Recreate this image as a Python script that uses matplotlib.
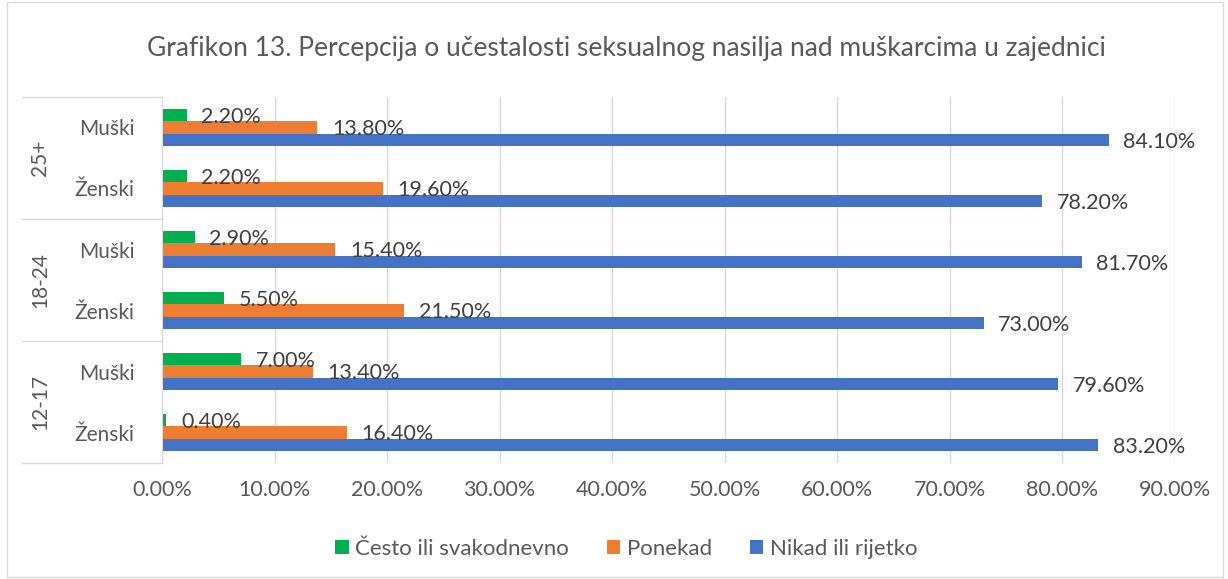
import matplotlib.pyplot as plt
from matplotlib.patches import Rectangle

plt.rcParams['font.family'] = ['Lato', 'DejaVu Sans']

# data (rows from top to bottom)
rows = ['Muški', 'Ženski', 'Muški', 'Ženski', 'Muški', 'Ženski']
groups = ['25+', '18-24', '12-17']
cesto = [2.2, 2.2, 2.9, 5.5, 7.0, 0.4]
ponekad = [13.8, 19.6, 15.4, 21.5, 13.4, 16.4]
nikad = [84.1, 78.2, 81.7, 73.0, 79.6, 83.2]
series_names = ['Često ili svakodnevno', 'Ponekad', 'Nikad ili rijetko']
colors = ['#00B050', '#ED7D31', '#4472C4']

fig = plt.figure(figsize=(12.28, 5.79), dpi=100)
ax = fig.add_axes([0.1319, 0.2003, 0.8249, 0.6322])

y = list(range(len(rows)))
h = 0.2
for vals, off, col, name in zip([cesto, ponekad, nikad], [-h, 0, h], colors, series_names):
    ypos = [v + off for v in y]
    ax.barh(ypos, vals, height=h, color=col, label=name)
    for yy, v in zip(ypos, vals):
        ax.text(v + 1.3, yy + 0.03, '%.2f%%' % v, va='center', ha='left',
                fontsize=15.5, color='#404040')

ax.set_ylim(5.5, -0.5)
ax.set_xlim(0, 90)
ax.set_xticks(range(0, 91, 10))
ax.set_xticklabels(['%.2f%%' % t for t in range(0, 91, 10)])
ax.set_yticks(y)
ax.set_yticklabels(rows)
ax.tick_params(axis='x', length=0, labelsize=15.5, labelcolor='#595959', pad=12)
ax.tick_params(axis='y', length=0, labelsize=15, labelcolor='#595959', pad=20)
ax.grid(axis='x', color='#d9d9d9', linewidth=1)
ax.set_axisbelow(True)
for s in ['top', 'right', 'bottom']:
    ax.spines[s].set_visible(False)
ax.spines['left'].set_color('#d9d9d9')

# group label box
tr = ax.get_yaxis_transform()
for yb in [-0.5, 1.5, 3.5, 5.5]:
    ax.plot([-0.138, 0], [yb, yb], transform=tr, color='#d9d9d9', lw=1, clip_on=False)
for i, g in enumerate(groups):
    ax.text(-0.12, 2 * i + 0.5, g, transform=tr, rotation=90, ha='center', va='center',
            fontsize=15, color='#595959')

fig.text(0.51, 0.917, 'Grafikon 13. Percepcija o učestalosti seksualnog nasilja nad muškarcima u zajednici',
         ha='center', va='center', fontsize=19, color='#595959')

fig.legend(loc='center', bbox_to_anchor=(0.51, 0.052), ncol=3, frameon=False,
           fontsize=16, labelcolor='#595959', handlelength=0.6, handleheight=0.6,
           handletextpad=0.3, columnspacing=1.7)

fig.patches.append(Rectangle((0.006, 0.004), 0.99, 0.992, transform=fig.transFigure,
                             fill=False, edgecolor='#d9d9d9', lw=1))

fig.savefig('out.png', dpi=100)
